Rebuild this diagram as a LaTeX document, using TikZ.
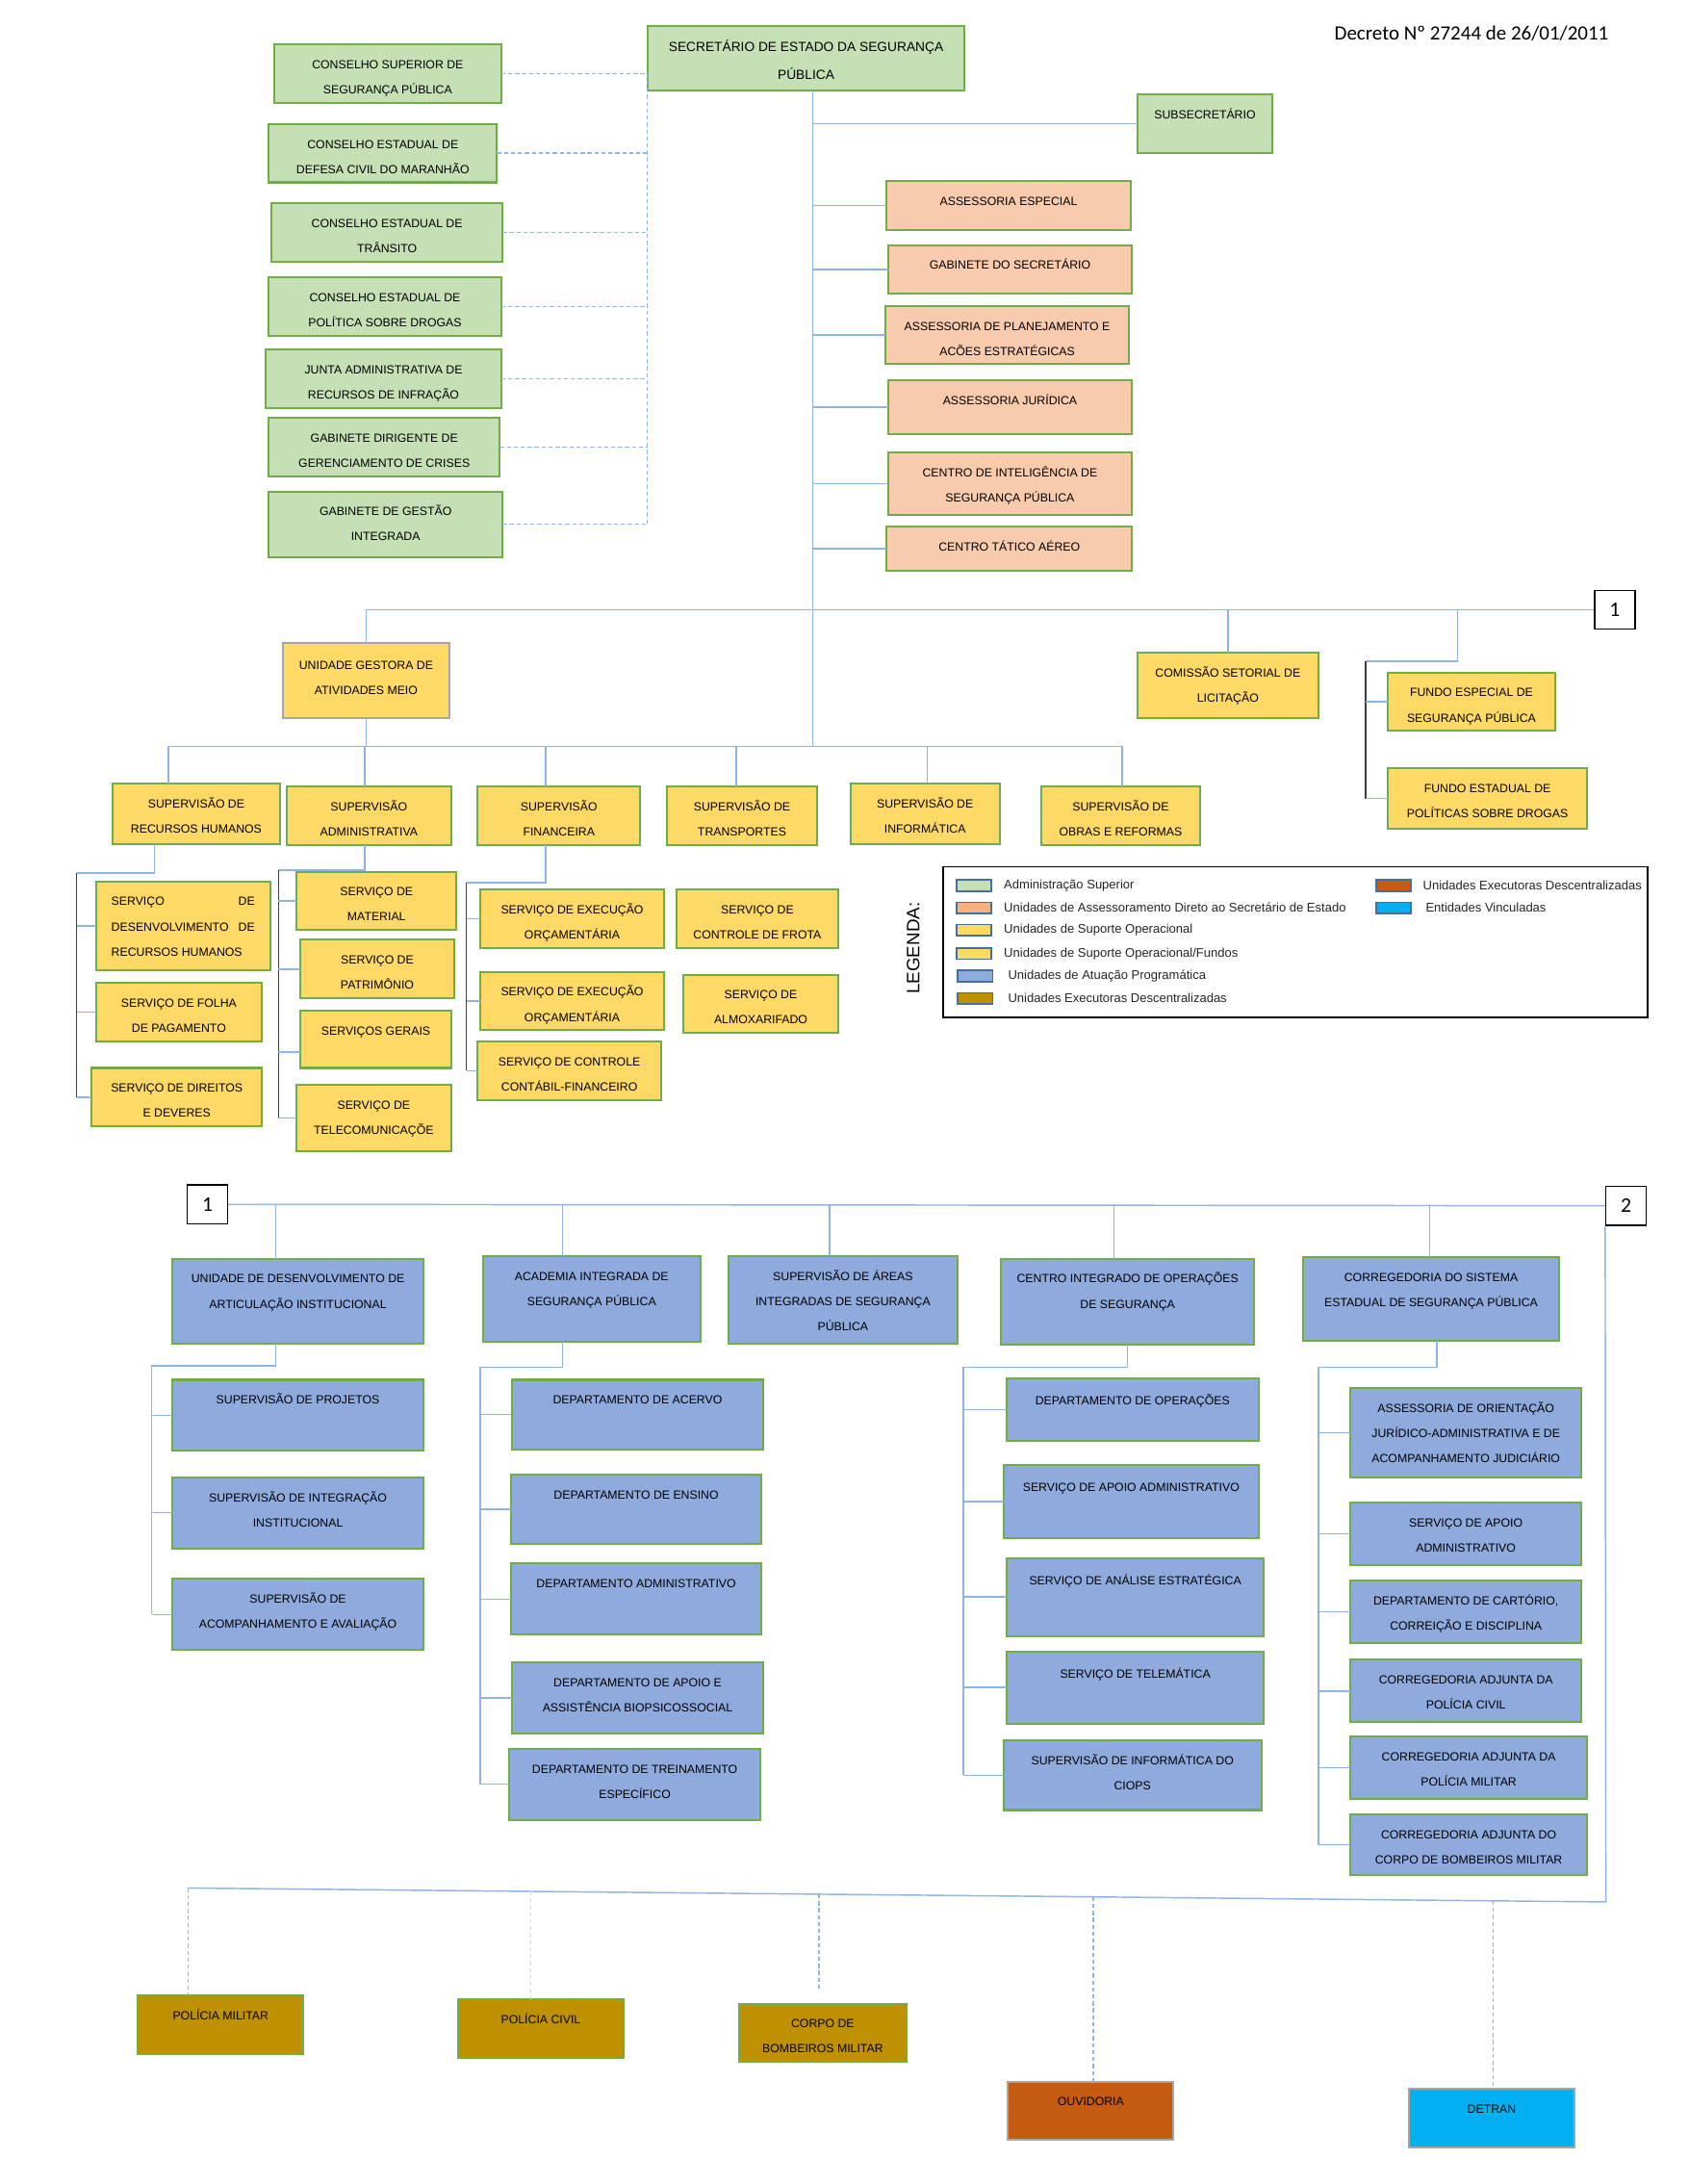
\documentclass[tikz,border=0pt]{standalone}
\usepackage{fontspec}
\setmainfont{Liberation Sans}
\newfontfamily\carl{Carlito}
\usetikzlibrary{calc}

\definecolor{gfill}{HTML}{C5E0B4}
\definecolor{pfill}{HTML}{F8CBAD}
\definecolor{psw}{HTML}{F4B183}
\definecolor{yfill}{HTML}{FFD966}
\definecolor{bfill}{HTML}{8FAADC}
\definecolor{ofill}{HTML}{BF9000}
\definecolor{rfill}{HTML}{C55A11}
\definecolor{cfill}{HTML}{00B0F0}
\definecolor{gline}{HTML}{70AD47}
\definecolor{cline}{HTML}{8EB4E3}
\definecolor{dline}{HTML}{3F3F3F}
\definecolor{grayb}{HTML}{A5A5A5}
\definecolor{swb}{HTML}{41719C}

\newcommand\bxfont{\fontsize{8.5}{18}\selectfont}
\newcommand\fl{17.5pt}
\newcommand{\ob}[7]{%
  \node[#1] (#2) at ({(#3+#5)/2},{(#4+#6)/2})
   {\parbox[c][\dimexpr #6pt-#4pt\relax][t]{\dimexpr #5pt-#3pt\relax}{\centering\rule{0pt}{\fl}#7\par}};}

\tikzset{
  box/.style={draw=gline, line width=1.4pt, inner sep=0pt, outer sep=0pt, font=\bxfont},
  gbox/.style={box, fill=gfill},
  pbox/.style={box, fill=pfill},
  ybox/.style={box, fill=yfill},
  bbox/.style={box, fill=bfill},
  obox/.style={box, fill=ofill},
  rbox/.style={box, fill=rfill, draw=grayb},
  cbox/.style={box, fill=cfill, draw=grayb},
  conn/.style={draw=cline, line width=1pt},
  dconn/.style={draw=cline, line width=0.9pt, dash pattern=on 3pt off 2pt},
  dark/.style={draw=dline, line width=0.9pt},
  numbox/.style={draw=black, line width=0.9pt, fill=white, minimum width=29pt, minimum height=28pt, inner sep=0pt, font=\carl\fontsize{15}{15}\selectfont},
  swatch/.style={draw=swb, line width=1.1pt, minimum width=25pt, minimum height=8pt, inner sep=0pt},
  legtxt/.style={font=\fontsize{9}{10}\selectfont, text=black!85, anchor=west, inner sep=0pt},
}

\begin{document}
\begin{tikzpicture}[x=1pt,y=-1pt]
\useasboundingbox (0,0) rectangle (1212.7,1568.6);
\fill[white] (0,0) rectangle (1212.7,1568.6);

% ---------- title
\node[font=\carl\fontsize{14.5}{15}\selectfont] (decreto) at (1057,24) {Decreto Nº 27244 de 26/01/2011};

% ---------- top level
{\renewcommand\fl{18pt}
\ob{gbox, font=\fontsize{9.5}{20}\selectfont}{sec}{465}{19}{693}{65}{SECRETÁRIO DE ESTADO DA SEGURANÇA\\PÚBLICA}}
\ob{gbox}{sub}{817}{68}{914}{110}{SUBSECRETÁRIO}

\ob{gbox}{g1}{197}{32}{360}{74}{CONSELHO SUPERIOR DE\\SEGURANÇA PÚBLICA}
\ob{gbox}{g2}{193}{89}{357}{131}{CONSELHO ESTADUAL DE\\DEFESA CIVIL DO MARANHÃO}
\ob{gbox}{g3}{195}{146}{361}{188}{CONSELHO ESTADUAL DE\\TRÂNSITO}
\ob{gbox}{g4}{193}{199}{360}{241}{CONSELHO ESTADUAL DE\\POLÍTICA SOBRE DROGAS}
\ob{gbox}{g5}{191}{251}{360}{293}{JUNTA ADMINISTRATIVA DE\\RECURSOS DE INFRAÇÃO}
\ob{gbox}{g6}{193}{300}{359}{342}{GABINETE DIRIGENTE DE\\GERENCIAMENTO DE CRISES}
\ob{gbox}{g7}{193}{353}{361}{400}{GABINETE DE GESTÃO\\INTEGRADA}

\ob{pbox}{p1}{637}{130}{812}{165}{ASSESSORIA ESPECIAL}
\ob{pbox}{p2}{638}{176}{813}{211}{GABINETE DO SECRETÁRIO}
\ob{pbox}{p3}{636}{220}{811}{261}{ASSESSORIA DE PLANEJAMENTO E\\ACÕES ESTRATÉGICAS}
\ob{pbox}{p4}{638}{273}{813}{312}{ASSESSORIA JURÍDICA}
\ob{pbox}{p5}{638}{325}{813}{370}{CENTRO DE INTELIGÊNCIA DE\\SEGURANÇA PÚBLICA}
\ob{pbox}{p6}{637}{378}{813}{410}{CENTRO TÁTICO AÉREO}

% ---------- operational support
{\renewcommand\fl{19pt}
\ob{ybox, draw=grayb}{ugam}{203}{462}{323}{516}{UNIDADE GESTORA DE\\ATIVIDADES MEIO}}
\ob{ybox}{com}{817}{469}{947}{516}{COMISSÃO SETORIAL DE\\LICITAÇÃO}
\ob{ybox}{fe1}{997}{483}{1117}{525}{FUNDO ESPECIAL DE\\SEGURANÇA PÚBLICA}
\ob{ybox}{fe2}{997}{552}{1140}{595}{FUNDO ESTADUAL DE\\POLÍTICAS SOBRE DROGAS}
\node[numbox] (n1) at (1160,438) {1};

\ob{ybox}{s1}{81}{563}{201}{606}{SUPERVISÃO DE\\RECURSOS HUMANOS}
\ob{ybox}{s2}{206}{565}{324}{607}{SUPERVISÃO\\ADMINISTRATIVA}
\ob{ybox}{s3}{343}{565}{460}{607}{SUPERVISÃO\\FINANCEIRA}
\ob{ybox}{s4}{479}{565}{587}{607}{SUPERVISÃO DE\\TRANSPORTES}
\ob{ybox}{s5}{611}{563}{718}{606}{SUPERVISÃO DE\\INFORMÁTICA}
\ob{ybox}{s6}{748}{565}{862}{607}{SUPERVISÃO DE\\OBRAS E REFORMAS}

\ob{ybox}{r1}{69}{633}{194}{697}{\makebox[103pt][s]{SERVIÇO\hfill DE}\\\makebox[103pt][s]{DESENVOLVIMENTO\hfill DE}\\\makebox[103pt][l]{RECURSOS HUMANOS}}
\ob{ybox}{r2}{69}{706}{188}{748}{SERVIÇO DE FOLHA\\DE PAGAMENTO}
\ob{ybox}{r3}{66}{767}{188}{809}{SERVIÇO DE DIREITOS\\E DEVERES}

\ob{ybox}{a1}{213}{626}{328}{668}{SERVIÇO DE\\MATERIAL}
\ob{ybox}{a2}{216}{675}{326}{717}{SERVIÇO DE\\PATRIMÔNIO}
\ob{ybox}{a3}{216}{726}{324}{767}{SERVIÇOS GERAIS}
\ob{ybox}{a4}{213}{779}{324}{827}{SERVIÇO DE\\TELECOMUNICAÇÕE}

\ob{ybox}{x1}{345}{639}{477}{681}{SERVIÇO DE EXECUÇÃO\\ORÇAMENTÁRIA}
\ob{ybox}{x2}{345}{698}{477}{740}{SERVIÇO DE EXECUÇÃO\\ORÇAMENTÁRIA}
\ob{ybox}{x3}{343}{748}{475}{790}{SERVIÇO DE CONTROLE\\CONTÁBIL-FINANCEIRO}

\ob{ybox}{t1}{486}{639}{602}{681}{SERVIÇO DE\\CONTROLE DE FROTA}
\ob{ybox}{t2}{491}{700}{602}{742}{SERVIÇO DE\\ALMOXARIFADO}

% ---------- legend
\node[draw=black, line width=1.2pt, minimum width=506pt, minimum height=108pt, anchor=north west, inner sep=0pt] (legbox) at (677,622) {};
\node[rotate=90, font=\fontsize{13}{13}\selectfont, inner sep=0pt] (legend) at (656,681) {LEGENDA:};
\node[swatch, fill=gfill] (sw1) at (699.5,636) {};
\node[swatch, fill=psw]   (sw2) at (699.5,652) {};
\node[swatch, fill=yfill] (sw3) at (699.5,668) {};
\node[swatch, fill=yfill] (sw4) at (699.5,685) {};
\node[swatch, fill=bfill] (sw5) at (700.5,701) {};
\node[swatch, fill=ofill] (sw6) at (700.5,717) {};
\node[swatch, fill=rfill] (sw7) at (1001,636) {};
\node[swatch, fill=cfill] (sw8) at (1001,652) {};
\node[legtxt] (l1) at (721,636) {Administração Superior};
\node[legtxt] (l2) at (721,652) {Unidades de Assessoramento Direto ao Secretário de Estado};
\node[legtxt] (l3) at (721,668) {Unidades de Suporte Operacional};
\node[legtxt] (l4) at (721,685) {Unidades de Suporte Operacional/Fundos};
\node[legtxt] (l5) at (724,701) {Unidades de Atuação Programática};
\node[legtxt] (l6) at (724,717) {Unidades Executoras Descentralizadas};
\node[legtxt] (l7) at (1022,636) {Unidades Executoras Descentralizadas};
\node[legtxt] (l8) at (1024,652) {Entidades Vinculadas};

% ---------- programmatic units
\node[numbox] (n1b) at (149,865) {1};
\node[numbox] (n2) at (1168,866) {2};

\ob{bbox}{u0}{124}{904}{304}{965}{UNIDADE DE DESENVOLVIMENTO DE\\ARTICULAÇÃO INSTITUCIONAL}
\ob{bbox}{ac}{347}{902}{503}{964}{ACADEMIA INTEGRADA DE\\SEGURANÇA PÚBLICA}
\ob{bbox}{sa}{523}{902}{688}{965}{SUPERVISÃO DE ÁREAS\\INTEGRADAS DE SEGURANÇA\\PÚBLICA}
\ob{bbox}{ci}{719}{904}{901}{966}{CENTRO INTEGRADO DE OPERAÇÕES\\DE SEGURANÇA}
\ob{bbox}{co}{936}{903}{1120}{963}{CORREGEDORIA DO SISTEMA\\ESTADUAL DE SEGURANÇA PÚBLICA}

\ob{bbox}{u1}{124}{991}{304}{1042}{SUPERVISÃO DE PROJETOS}
\ob{bbox}{u2}{124}{1061}{304}{1112}{SUPERVISÃO DE INTEGRAÇÃO\\INSTITUCIONAL}
\ob{bbox}{u3}{124}{1134}{304}{1185}{SUPERVISÃO DE\\ACOMPANHAMENTO E AVALIAÇÃO}

\ob{bbox}{k1}{368}{991}{548}{1041}{DEPARTAMENTO DE ACERVO}
\ob{bbox}{k2}{367}{1059}{547}{1109}{DEPARTAMENTO DE ENSINO}
\ob{bbox}{k3}{367}{1123}{547}{1174}{DEPARTAMENTO ADMINISTRATIVO}
\ob{bbox}{k4}{368}{1194}{548}{1245}{DEPARTAMENTO DE APOIO E\\ASSISTÊNCIA BIOPSICOSSOCIAL}
\ob{bbox}{k5}{366}{1256}{546}{1307}{DEPARTAMENTO DE TREINAMENTO\\ESPECÍFICO}

{\renewcommand\fl{19pt}
\ob{bbox}{o1}{723}{990}{904}{1035}{DEPARTAMENTO DE OPERAÇÕES}
\ob{bbox}{o2}{721}{1052}{904}{1105}{SERVIÇO DE APOIO ADMINISTRATIVO}
\ob{bbox}{o3}{723}{1119}{908}{1175}{SERVIÇO DE ANÁLISE ESTRATÉGICA}
\ob{bbox}{o4}{723}{1186}{908}{1238}{SERVIÇO DE TELEMÁTICA}}
\ob{bbox}{o5}{721}{1250}{906}{1300}{SUPERVISÃO DE INFORMÁTICA DO\\CIOPS}

\ob{bbox}{q1}{970}{997}{1136}{1061}{ASSESSORIA DE ORIENTAÇÃO\\JURÍDICO-ADMINISTRATIVA E DE\\ACOMPANHAMENTO JUDICIÁRIO}
\ob{bbox}{q2}{970}{1079}{1136}{1124}{SERVIÇO DE APOIO\\ADMINISTRATIVO}
\ob{bbox}{q3}{970}{1135}{1136}{1180}{DEPARTAMENTO DE CARTÓRIO,\\CORREIÇÃO E DISCIPLINA}
\ob{bbox}{q4}{970}{1192}{1136}{1237}{CORREGEDORIA ADJUNTA DA\\POLÍCIA CIVIL}
\ob{bbox}{q5}{970}{1247}{1140}{1292}{CORREGEDORIA ADJUNTA DA\\POLÍCIA MILITAR}
\ob{bbox}{q6}{970}{1303}{1140}{1347}{CORREGEDORIA ADJUNTA DO\\CORPO DE BOMBEIROS MILITAR}

% ---------- decentralised / linked entities
\ob{obox}{pm}{99}{1433}{218}{1475}{POLÍCIA MILITAR}
\ob{obox}{pc}{329}{1436}{448}{1478}{POLÍCIA CIVIL}
\ob{obox}{cb}{531}{1439}{651}{1481}{CORPO DE\\BOMBEIROS MILITAR}
\ob{rbox}{ou}{724}{1495}{843}{1537}{OUVIDORIA}
\ob{cbox}{de}{1012}{1500}{1131}{1542}{DETRAN}

% ================= connectors =================
% secretary trunk
\coordinate (trunk) at ($(sec.south)+(5,0)$);
\coordinate (b1) at (121,536);
\coordinate (b2) at (262,536);
\coordinate (b3) at (392,536);
\coordinate (b4) at (529,536);
\coordinate (b5) at (666,536);
\coordinate (b6) at (806,536);
\draw[conn] (trunk) -- (trunk |- b1);
\draw[conn] (sub.west -| trunk) -- (sub.west);
\foreach \n in {p1,p2,p3,p4,p5,p6} \draw[conn] (\n.west -| trunk) -- (\n.west);

% councils (dashed)
\foreach \n in {g1,g2,g3,g4,g5,g6,g7} \draw[dconn] (\n.east) -- (\n.east -| sec.west);
\draw[dconn] (g1.east -| sec.west) -- (g7.east -| sec.west);

% bar 1
\draw[conn] (ugam.north) |- (n1.west);
\draw[conn] (com.north) -- (com.north |- n1.west);
\coordinate (fdrop) at (1047,475);
\coordinate (fsp) at (981,475);
\draw[conn] (fdrop |- n1.west) -- (fdrop) -- (fsp);
\draw[dark] (fsp) -- (fsp |- fe2.west);
\draw[conn] (fsp |- fe1.west) -- (fe1.west);
\draw[conn] (fsp |- fe2.west) -- (fe2.west);

% supervision bar
\draw[conn] (b1) -- (b6);
\draw[conn] (ugam.south) -- (ugam.south |- b1);
\draw[conn] (b1) -- (b1 |- s1.north);
\draw[conn] (b2) -- (b2 |- s2.north);
\draw[conn] (b3) -- (b3 |- s3.north);
\draw[conn] (b4) -- (b4 |- s4.north);
\draw[conn] (b5) -- (b5 |- s5.north);
\draw[conn] (b6) -- (b6 |- s6.north);

% RH
\coordinate (rh1) at (111,627);
\coordinate (rh2) at (55,627);
\draw[conn] (s1.south -| rh1) -- (rh1) -- (rh2);
\draw[dark] (rh2) -- (rh2 |- r3.west);
\foreach \n in {r1,r2,r3} \draw[conn] (rh2 |- \n.west) -- (\n.west);

% ADM
\coordinate (ad1) at (262,625);
\coordinate (ad2) at (200,625);
\coordinate (a3b) at ([yshift=-9pt]a3.west);
\draw[conn] (s2.south -| ad1) -- (ad1) -- (ad2);
\draw[dark] (ad2) -- (ad2 |- a4.west);
\foreach \n in {a1,a2,a4} \draw[conn] (ad2 |- \n.west) -- (\n.west);
\draw[conn] (ad2 |- a3b) -- (a3b);

% FIN
\coordinate (fi1) at (392,634);
\coordinate (fi2) at (335,634);
\draw[conn] (s3.south -| fi1) -- (fi1) -- (fi2);
\draw[dark] (fi2) -- (fi2 |- x3.west);
\foreach \n in {x1,x2,x3} \draw[conn] (fi2 |- \n.west) -- (\n.west);

% bar 2
\draw[conn] (n1b.east) -- (n2.west);
\coordinate (c1) at (198,865);
\coordinate (c2) at (404,865);
\coordinate (c3) at (596,865);
\coordinate (c4) at (800,865);
\coordinate (c5) at (1027,865);
\draw[conn] (c1) -- (c1 |- u0.north);
\draw[conn] (c2) -- (c2 |- ac.north);
\draw[conn] (c3) -- (c3 |- sa.north);
\draw[conn] (c4) -- (c4 |- ci.north);
\draw[conn] (c5) -- (c5 |- co.north);

% UDAI
\coordinate (ud1) at (198,981);
\coordinate (ud2) at (109,981);
\draw[conn] (u0.south -| ud1) -- (ud1) -- (ud2) -- (ud2 |- u3.west);
\foreach \n in {u1,u2,u3} \draw[conn] (ud2 |- \n.west) -- (\n.west);

% Academy
\coordinate (ak1) at (404,982);
\coordinate (ak2) at (345,982);
\draw[conn] (ac.south -| ak1) -- (ak1) -- (ak2) -- (ak2 |- k5.west);
\foreach \n in {k1,k2,k3,k4,k5} \draw[conn] (ak2 |- \n.west) -- (\n.west);

% CIOPS
\coordinate (ck1) at (810,982);
\coordinate (ck2) at (692,982);
\draw[conn] (ci.south -| ck1) -- (ck1) -- (ck2) -- (ck2 |- o5.west);
\foreach \n in {o1,o2,o3,o4,o5} \draw[conn] (ck2 |- \n.west) -- (\n.west);

% Corregedoria
\coordinate (qk1) at (1032,982);
\coordinate (qk2) at (947,982);
\draw[conn] (co.south -| qk1) -- (qk1) -- (qk2) -- (qk2 |- q6.west);
\foreach \n in {q1,q2,q3,q4,q5,q6} \draw[conn] (qk2 |- \n.west) -- (\n.west);

% slanted bar to entities
\coordinate (sl1) at (135,1356);
\coordinate (sl2) at (1153.5,1366);
\draw[conn] (n2.south west) -- (sl2) -- (sl1);
\coordinate (d2) at ($(sl1)!0.2417!(sl2)$);
\coordinate (d3) at ($(sl1)!0.4450!(sl2)$);
\coordinate (d4) at ($(sl1)!0.6385!(sl2)$);
\coordinate (d5) at ($(sl1)!0.9204!(sl2)$);
\coordinate (d3e) at ([yshift=9pt]cb.north);
\draw[dconn] (sl1) -- (sl1 |- pm.north);
\draw[dconn, draw=cline!45] (d2) -- (d2 |- pc.north);
\draw[dconn] (d3) -- (d3 |- d3e);
\draw[dconn] (d4) -- (d4 |- ou.north);
\draw[dconn] (d5) -- (d5 |- de.north);
\end{tikzpicture}
\end{document}
